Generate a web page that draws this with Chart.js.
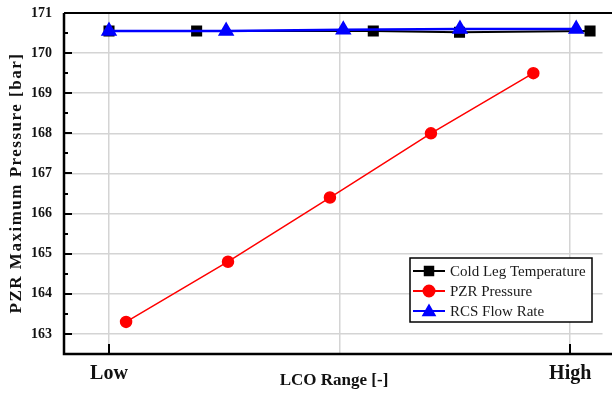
<!DOCTYPE html>
<html>
<head>
<meta charset="utf-8">
<script src="https://cdn.jsdelivr.net/npm/chart.js@4"></script>
<style>
  html, body { margin: 0; padding: 0; background: #fff; overflow: hidden; }
  #wrap { width: 612px; height: 394px; }
</style>
</head>
<body>
<div id="wrap"><canvas id="lcoChart" width="612" height="394"></canvas></div>
<script>
// LCO range: Low = 0, High = 1
const xTickLabels = ['Low', 'High'];
const yTicks = [163, 164, 165, 166, 167, 168, 169, 170, 171];

const seriesNames = ['Cold Leg Temperature', 'PZR Pressure', 'RCS Flow Rate'];

const coldLegX = [0, 0.19, 0.573, 0.76, 1.043];
const coldLegY = [170.55, 170.55, 170.55, 170.52, 170.55];

const pzrX = [0.037, 0.258, 0.479, 0.698, 0.92];
const pzrY = [163.3, 164.8, 166.4, 168.0, 169.5];

const rcsX = [0, 0.254, 0.508, 0.761, 1.013];
const rcsY = [170.55, 170.55, 170.58, 170.6, 170.6];

const toPoints = (xs, ys) => xs.map((x, i) => ({ x: x, y: ys[i] }));

const SERIF = '"Liberation Serif", "Times New Roman", serif';

// frame, inward ticks, axis titles and the boxed legend
const decor = {
  id: 'decor',
  afterDraw(chart) {
    const c = chart.ctx;
    const a = chart.chartArea;
    const xs = chart.scales.x, ys = chart.scales.y;
    c.save();
    c.strokeStyle = '#000';
    c.lineCap = 'butt';

    // y ticks (major + minor, pointing inside)
    c.lineWidth = 2;
    for (let v = 162.5; v <= 171; v += 0.5) {
      const py = Math.round(ys.getPixelForValue(v));
      const len = Number.isInteger(v) ? 8 : 4;
      c.beginPath(); c.moveTo(a.left, py); c.lineTo(a.left + len, py); c.stroke();
    }
    // x ticks at Low and High
    [0, 1].forEach(v => {
      const px = Math.round(xs.getPixelForValue(v));
      c.beginPath(); c.moveTo(px, a.bottom); c.lineTo(px, a.bottom - 10); c.stroke();
    });

    // frame (runs off the right edge)
    c.lineWidth = 2.5;
    c.beginPath();
    c.moveTo(chart.width, a.bottom); c.lineTo(a.left, a.bottom); c.lineTo(a.left, a.top);
    c.stroke();
    c.lineWidth = 2;
    c.beginPath(); c.moveTo(a.left, a.top); c.lineTo(chart.width, a.top); c.stroke();

    // axis titles
    c.fillStyle = '#111';
    c.font = 'bold 17px ' + SERIF;
    c.textAlign = 'center';
    c.textBaseline = 'middle';
    c.fillText('LCO Range [-]', 334, 381);
    c.save();
    c.translate(17, 183);
    c.rotate(-Math.PI / 2);
    c.letterSpacing = '1.5px';
    c.fillText('PZR Maximum Pressure [bar]', 0, 0);
    c.restore();

    // legend box
    const bx = 410, by = 258, bw = 182, bh = 64;
    c.fillStyle = '#fff';
    c.fillRect(bx, by, bw, bh);
    c.lineWidth = 1.5;
    c.strokeStyle = '#000';
    c.strokeRect(bx, by, bw, bh);
    const rows = [271, 291, 311];
    chart.data.datasets.forEach((ds, i) => {
      const ry = rows[i];
      c.strokeStyle = ds.borderColor;
      c.fillStyle = ds.backgroundColor;
      c.lineWidth = 2;
      c.beginPath(); c.moveTo(413, ry); c.lineTo(445, ry); c.stroke();
      Chart.helpers.drawPoint(c, {
        pointStyle: ds.pointStyle, rotation: 0, borderWidth: 1,
        radius: ds.pointStyle === 'triangle' ? 6.5 : (ds.pointStyle === 'rect' ? 6 : 5.5)
      }, 429, ds.pointStyle === 'triangle' ? ry + 1 : ry);
      c.fillStyle = '#1a1a1a';
      c.font = '15px ' + SERIF;
      c.textAlign = 'left';
      c.fillText(ds.label, 450, ry + 1);
    });
    c.restore();
  }
};

const ctx = document.getElementById('lcoChart').getContext('2d');

const lcoChart = new Chart(ctx, {
  type: 'scatter',
  data: {
    datasets: [
      {
        label: seriesNames[0],
        data: toPoints(coldLegX, coldLegY),
        showLine: true,
        borderColor: '#000000',
        backgroundColor: '#000000',
        borderWidth: 2,
        pointStyle: 'rect',
        pointRadius: 6.4,
        order: 3
      },
      {
        label: seriesNames[1],
        data: toPoints(pzrX, pzrY),
        showLine: true,
        borderColor: '#ff0000',
        backgroundColor: '#ff0000',
        borderWidth: 1.5,
        pointStyle: 'circle',
        pointRadius: 5.5,
        order: 2
      },
      {
        label: seriesNames[2],
        data: toPoints(rcsX, rcsY),
        showLine: true,
        borderColor: '#0000ff',
        backgroundColor: '#0000ff',
        borderWidth: 2.5,
        pointStyle: 'triangle',
        pointRadius: 7,
        order: 1
      }
    ]
  },
  options: {
    responsive: false,
    animation: false,
    layout: { padding: { top: 13, right: 1, left: 0, bottom: 0 } },
    plugins: {
      legend: { display: false },
      tooltip: { enabled: false }
    },
    scales: {
      x: {
        type: 'linear',
        min: -0.0976,
        max: 1.07,
        afterFit: s => { s.height = 40; s.paddingLeft = 0; s.paddingRight = 0; },
        afterBuildTicks: s => { s.ticks = [0, 0.5, 1].map(v => ({ value: v })); },
        border: { display: false },
        grid: { color: '#d4d4d4', lineWidth: 1.5, drawTicks: false },
        ticks: {
          padding: 8,
          autoSkip: false,
          maxRotation: 0,
          color: '#111',
          font: { family: SERIF, size: 20, weight: 'bold' },
          callback: v => v === 0 ? xTickLabels[0] : (v === 1 ? xTickLabels[1] : '')
        }
      },
      y: {
        min: 162.5,
        max: 171,
        afterFit: s => { s.width = 64; s.paddingTop = 0; s.paddingBottom = 0; },
        afterBuildTicks: s => { s.ticks = yTicks.map(v => ({ value: v })); },
        border: { display: false },
        grid: { color: '#d4d4d4', lineWidth: 1.5, drawTicks: false },
        ticks: {
          padding: 12,
          color: '#111',
          font: { family: SERIF, size: 14, weight: 'bold' }
        }
      }
    }
  },
  plugins: [decor]
});
</script>
</body>
</html>
